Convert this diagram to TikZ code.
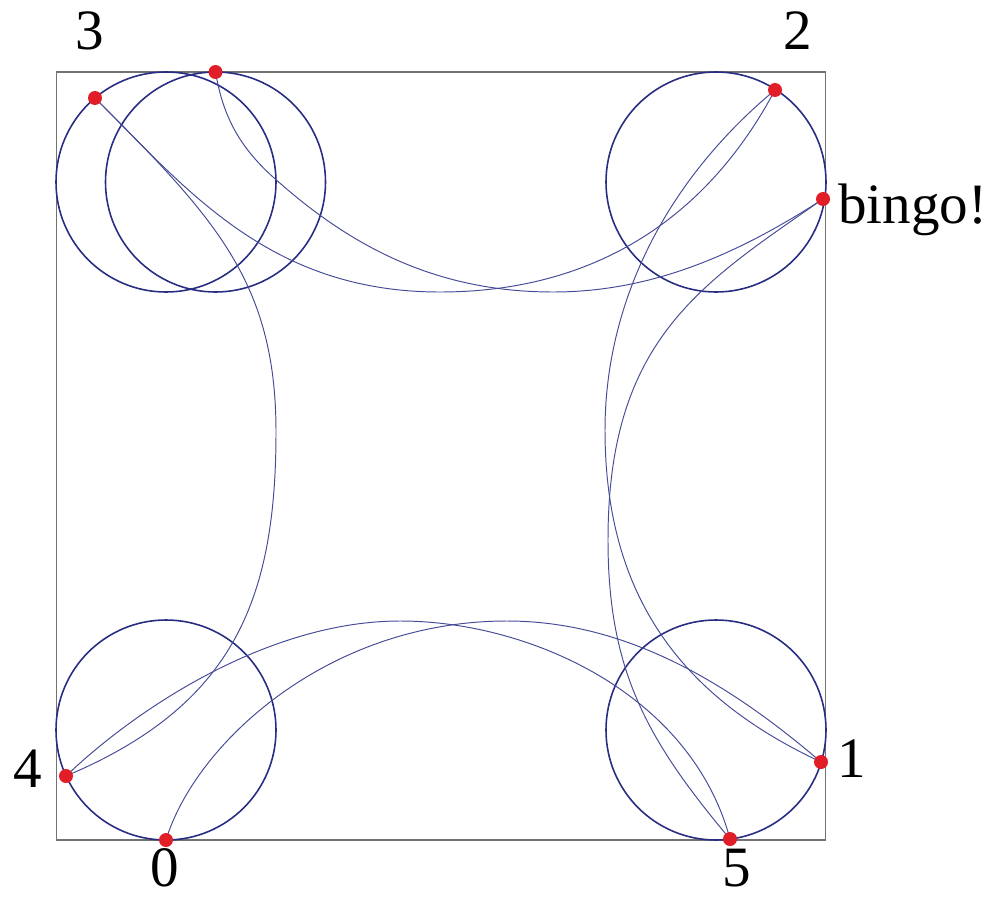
\documentclass[tikz,border=0pt]{standalone}
\usepackage{fontspec}
\setmainfont{Liberation Serif}
\definecolor{navy}{RGB}{40,45,130}
\definecolor{arcnavy}{RGB}{70,75,150}
\definecolor{framegray}{RGB}{115,115,115}
\definecolor{dotred}{RGB}{225,30,40}
\begin{document}
\begin{tikzpicture}[x=0.02cm,y=-0.02cm,
  framebox/.style={draw=framegray,line width=0.75pt},
  cornercircle/.style={draw=navy,line width=0.9pt},
  orbit/.style={draw=arcnavy,line width=0.55pt},
  dot/.style={circle,fill=dotred,inner sep=0pt,minimum size=0.28cm},
  lab/.style={font=\fontsize{32.5}{36}\selectfont,inner sep=0pt}]
\useasboundingbox (0,0) rectangle (997,899);
% frame
\draw[framebox] (56.5,72) rectangle (825.5,840);
% circle centres
\coordinate (cBL) at (166,730);
\coordinate (cBR) at (716,730);
\coordinate (cTR) at (716,182);
\coordinate (cTL) at (166,182);
\coordinate (cTLb) at (215.5,182);
\foreach \c in {cBL,cBR,cTR,cTL,cTLb}
  \draw[cornercircle] (\c) circle[radius=110];
% orbit points
\coordinate (p0) at (166,840);
\coordinate (p1) at (821,762);
\coordinate (p2) at (775,90);
\coordinate (p3) at (95,98);
\coordinate (p4) at (66,776);
\coordinate (p5) at (730,839);
\coordinate (pb) at (823,199);
\coordinate (pt) at (215.5,72);
% turning points of the arcs
\coordinate (m01) at (507,621);
\coordinate (m12) at (605,430);
\coordinate (m32) at (440,292);
\coordinate (m34) at (276,432);
\coordinate (m45) at (400,621);
\coordinate (m5b) at (608,540);
\coordinate (qtb) at (273,177);
\coordinate (mtb) at (553,292);
% orbit arcs
\draw[orbit] (p0) .. controls +(29,-95.6) and +(-180,0) .. (m01)
                  .. controls +(120,0) and +(-91,-78) .. (p1);
\draw[orbit] (p1) .. controls +(-136,-63.5) and +(0,170) .. (m12)
                  .. controls +(0,-120) and +(-115.5,96) .. (p2);
\draw[orbit] (p3) .. controls +(92,92) and +(-170,0) .. (m32)
                  .. controls +(150,0) and +(-70.5,132.5) .. (p2);
\draw[orbit] (p3) .. controls +(120,120) and +(0,-150) .. (m34)
                  .. controls +(0,170) and +(166,-70) .. (p4);
\draw[orbit] (p4) .. controls +(72,-69) and +(-130,0) .. (m45)
                  .. controls +(130,0) and +(-39,-145) .. (p5);
\draw[orbit] (p5) .. controls +(-83.6,-99.6) and +(0,130) .. (m5b)
                  .. controls +(0,-200) and +(-123,85.5) .. (pb);
\draw[orbit] (pt) .. controls +(6.8,39.4) and +(-37.2,-33.5) .. (qtb)
                  .. controls +(74.3,66.9) and +(-120,0) .. (mtb)
                  .. controls +(100,0) and +(-84,54.5) .. (pb);
% dots
\foreach \p in {p0,p1,p2,p3,p4,p5,pb,pt}
  \node[dot] (d\p) at (\p) {};
% labels
\node[lab,anchor=base] (l0) at (165,886) {0};
\node[lab,anchor=base] (l1) at (852,777) {1};
\node[lab,anchor=base] (l2) at (798,50) {2};
\node[lab,anchor=base] (l3) at (90,50) {3};
\node[lab,anchor=base] (l4) at (27.5,787) {4};
\node[lab,anchor=base] (l5) at (737,886) {5};
\node[lab,anchor=base west] (lb) at (838,223) {bingo!};
\end{tikzpicture}
\end{document}
